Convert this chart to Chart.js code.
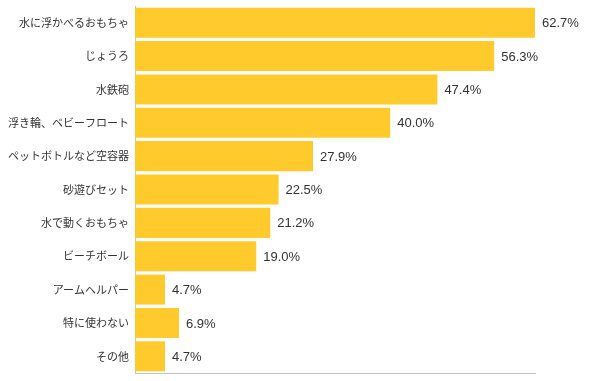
<!DOCTYPE html>
<html>
<head>
<meta charset="utf-8">
<script src="https://cdn.jsdelivr.net/npm/chart.js@4/dist/chart.umd.min.js"></script>
<style>
html,body{margin:0;padding:0;background:#fff;}
#wrap{width:601px;height:381px;position:relative;}
</style>
</head>
<body>
<div id="wrap"><canvas id="c" width="601" height="381"></canvas></div>
<script>
const categories = ["水に浮かべるおもちゃ","じょうろ","水鉄砲","浮き輪、ベビーフロート","ペットボトルなど空容器","砂遊びセット","水で動くおもちゃ","ビーチボール","アームヘルパー","特に使わない","その他"];
const values = [62.7,56.3,47.4,40.0,27.9,22.5,21.2,19.0,4.7,6.9,4.7];
const valueLabels = ["62.7%","56.3%","47.4%","40.0%","27.9%","22.5%","21.2%","19.0%","4.7%","6.9%","4.7%"];

const labelPlugin = {
  id: 'valueLabels',
  afterDatasetsDraw(chart) {
    const ctx = chart.ctx;
    const meta = chart.getDatasetMeta(0);
    ctx.save();
    ctx.font = '13px "Liberation Sans", Arial, sans-serif';
    ctx.fillStyle = '#333';
    ctx.textAlign = 'left';
    ctx.textBaseline = 'middle';
    meta.data.forEach((bar, i) => {
      ctx.fillText(valueLabels[i], bar.x + 7, bar.y + 1);
    });
    ctx.restore();
  }
};

new Chart(document.getElementById('c'), {
  type: 'bar',
  data: {
    labels: categories,
    datasets: [{
      data: values,
      backgroundColor: '#FFCA2B',
      borderWidth: 0,
      categoryPercentage: 1.0,
      barPercentage: 0.9
    }]
  },
  options: {
    indexAxis: 'y',
    responsive: false,
    animation: false,
    devicePixelRatio: 1,
    layout: { padding: { top: 6, right: 66, bottom: 8, left: 0 } },
    plugins: { legend: { display: false }, tooltip: { enabled: false } },
    scales: {
      x: {
        min: 0,
        max: 62.7,
        ticks: { display: false },
        grid: { display: false, drawTicks: false },
        border: { display: true, color: '#c4c4c4', width: 1 }
      },
      y: {
        ticks: {
          color: '#333',
          font: { family: '"Noto Sans CJK JP", sans-serif', size: 11 },
          padding: 6
        },
        grid: { display: false, drawTicks: false },
        border: { display: true, color: '#c4c4c4', width: 1 },
        afterFit(scale) { scale.width = 135; scale.paddingTop = 0; scale.paddingBottom = 0; }
      }
    }
  },
  plugins: [labelPlugin]
});
</script>
</body>
</html>
